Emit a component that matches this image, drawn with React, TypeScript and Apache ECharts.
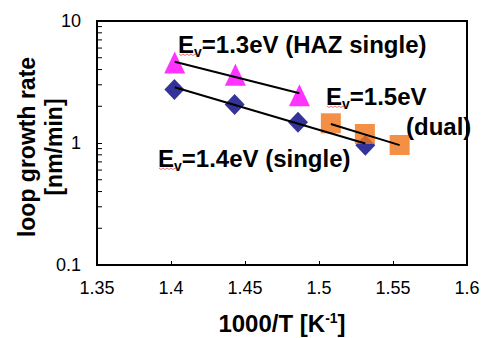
import React, { useEffect, useRef } from "react";
import * as echarts from "echarts";

const triX = [1.4025, 1.4435, 1.4868];
const triY = [4.57, 3.63, 2.46];
const diaX = [1.4023, 1.443, 1.4858, 1.5313];
const diaY = [2.75, 2.07, 1.48, 0.96];
const sqX = [1.508, 1.531, 1.5545];
const sqY = [1.45, 1.185, 0.963];
const triFitX = [1.4025, 1.4868];
const triFitY = [4.64, 2.56];
const diaFitX = [1.4025, 1.5313];
const diaFitY = [2.86, 0.99];
const sqFitX = [1.508, 1.5545];
const sqFitY = [1.43, 0.96];
const minorTickValues = [0.2, 0.3, 0.4, 0.5, 0.6, 0.7, 0.8, 0.9, 2, 3, 4, 5, 6, 7, 8, 9];

const FONT = "'Liberation Sans', Arial, sans-serif";

const zip = (xs: number[], ys: number[]) => xs.map((x, i) => [x, ys[i]]);

export default function App() {
  const ref = useRef<HTMLDivElement>(null);
  useEffect(() => {
    if (!ref.current) return;
    const chart = echarts.init(ref.current, null, { renderer: "svg" });
    const rich = {
      a: { fontSize: 24, fontWeight: "bold", fontFamily: FONT, color: "#000", lineHeight: 28, verticalAlign: "bottom" },
      s: { fontSize: 14, fontWeight: "bold", fontFamily: FONT, color: "#000", lineHeight: 28, verticalAlign: "bottom", padding: [0, 0, -3, 0] },
    };
    const ann = (text: string, x: number, y: number) => ({
      type: "text",
      x,
      y,
      z: 100,
      style: { text, rich, align: "left", verticalAlign: "top", fill: "#000" },
    });
    const squiggle = (x: number, y: number) => {
      const pts: number[][] = [];
      for (let i = 0; i <= 9; i++) pts.push([x + i * 2, y + (i % 2 === 0 ? 0 : 1.5)]);
      return { type: "polyline", z: 101, shape: { points: pts }, style: { stroke: "#E05050", lineWidth: 0.8, fill: null } };
    };
    chart.setOption({
      animation: false,
      backgroundColor: "#fff",
      grid: {
        left: 97,
        top: 21,
        right: 25,
        bottom: 73,
        show: true,
        borderColor: "#000",
        borderWidth: 2,
        backgroundColor: "transparent",
        containLabel: false,
        outerBoundsMode: "none",
      },
      xAxis: {
        type: "value",
        min: 1.35,
        max: 1.6,
        interval: 0.05,
        axisLine: { lineStyle: { color: "#000", width: 2 } },
        axisTick: { inside: true, length: 4, lineStyle: { color: "#000", width: 1 } },
        splitLine: { show: false },
        axisLabel: { color: "#000", fontSize: 18, fontFamily: FONT, margin: 14 },
        name: "{a|1000/T [K}{p|-1}{a|]}",
        nameLocation: "middle",
        nameGap: 46,
        nameMoveOverlap: false,
        nameTextStyle: {
          rich: {
            a: { fontSize: 24, fontWeight: "bold", fontFamily: FONT, color: "#000", lineHeight: 26, verticalAlign: "top" },
            p: { fontSize: 14, fontWeight: "bold", fontFamily: FONT, color: "#000", lineHeight: 26, verticalAlign: "top" },
          },
        },
      },
      yAxis: {
        type: "log",
        logBase: 10,
        min: 0.1,
        max: 10,
        axisLine: { lineStyle: { color: "#000", width: 2 } },
        axisTick: { inside: true, length: 5, lineStyle: { color: "#000", width: 1 } },
        splitLine: { show: false },
        axisLabel: { color: "#000", fontSize: 18, fontFamily: FONT, margin: 16 },
        name: "loop growth rate\n[nm/min]",
        nameLocation: "middle",
        nameGap: 30,
        nameMoveOverlap: false,
        nameRotate: 90,
        nameTextStyle: { fontSize: 23, fontWeight: "bold", fontFamily: FONT, color: "#000", lineHeight: 27, padding: [0, 8, 0, 0] },
      },
      series: [
        {
          type: "custom",
          silent: true,
          clip: false,
          z: 10,
          data: minorTickValues.map((v) => [1.35, v]),
          renderItem: (params: any, api: any) => {
            const p = api.coord([api.value(0), api.value(1)]);
            return {
              type: "line",
              shape: { x1: p[0], y1: p[1], x2: p[0] + 5, y2: p[1] },
              style: { stroke: "#000", lineWidth: 1 },
            };
          },
        },
        {
          type: "scatter",
          symbol: "triangle",
          symbolSize: [21, 22],
          itemStyle: { color: "#FF00FF" },
          data: zip(triX, triY),
        },
        {
          type: "scatter",
          symbol: "diamond",
          symbolSize: [20, 21],
          itemStyle: { color: "#000080" },
          data: zip(diaX, diaY),
        },
        {
          type: "scatter",
          symbol: "rect",
          symbolSize: 20,
          itemStyle: { color: "#F07418" },
          data: zip(sqX, sqY),
        },
        {
          type: "line",
          symbol: "none",
          z: 5,
          lineStyle: { color: "#000", width: 2 },
          data: zip(triFitX, triFitY),
        },
        {
          type: "line",
          symbol: "none",
          z: 5,
          lineStyle: { color: "#000", width: 2 },
          data: zip(diaFitX, diaFitY),
        },
        {
          type: "line",
          symbol: "none",
          z: 5,
          lineStyle: { color: "#000", width: 2 },
          data: zip(sqFitX, sqFitY),
        },
      ],
      graphic: [
        ann("{a|E}{s|v}{a|=1.3eV (HAZ single)}", 178, 28),
        ann("{a|E}{s|v}{a|=1.5eV}", 326, 80),
        ann("{a|(dual)}", 406, 110),
        ann("{a|E}{s|v}{a|=1.4eV (single)}", 158, 142),
        squiggle(179, 54),
        squiggle(327, 106),
        squiggle(159, 168),
      ],
    });
    return () => chart.dispose();
  }, []);
  return <div ref={ref} style={{ position: "fixed", left: 0, top: 0, width: 492, height: 338 }} />;
}
